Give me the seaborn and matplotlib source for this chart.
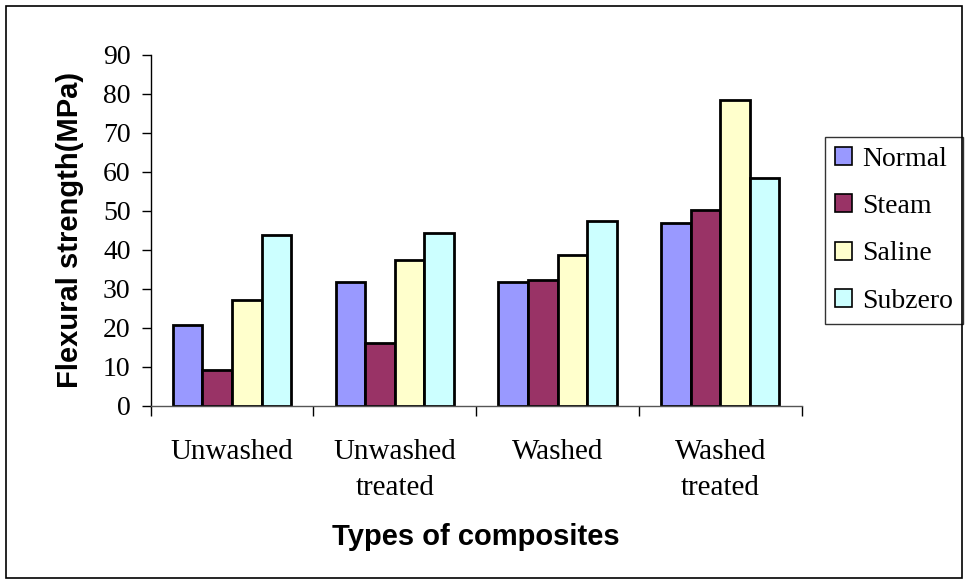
import matplotlib
matplotlib.use("Agg")
import matplotlib.pyplot as plt
from matplotlib.patches import Rectangle
from matplotlib.ticker import FixedLocator, MultipleLocator
import pandas as pd
import seaborn as sns

categories = ["Unwashed", "Unwashed\ntreated", "Washed", "Washed\ntreated"]
conditions = ["Normal", "Steam", "Saline", "Subzero"]
normal = [20.7, 31.7, 31.6, 46.8]
steam = [9.2, 16.0, 32.3, 50.1]
saline = [27.1, 37.4, 38.6, 78.5]
subzero = [43.8, 44.4, 47.3, 58.3]
colors = ["#9999FF", "#993366", "#FFFFCC", "#CCFFFF"]

rows = []
for cond, vals in zip(conditions, [normal, steam, saline, subzero]):
    for cat, v in zip(categories, vals):
        rows.append({"type": cat, "condition": cond, "value": v})
df = pd.DataFrame(rows)

sns.set_theme(style="white")
plt.rcParams["font.family"] = ["Liberation Serif", "DejaVu Serif"]
plt.rcParams.update({"text.color": "black", "axes.labelcolor": "black",
                     "xtick.color": "black", "ytick.color": "black"})

fig = plt.figure(figsize=(9.65, 5.83), dpi=100)
ax = fig.add_axes([150.7 / 965, 1 - 405.7 / 583, (801.7 - 150.7) / 965, (405.7 - 54.7) / 583])

sns.barplot(data=df, x="type", y="value", hue="condition", order=categories,
            hue_order=conditions, palette=colors, edgecolor="black",
            linewidth=2.0, width=0.727, errorbar=None, ax=ax, saturation=1)

ax.set_ylim(0, 90)
ax.set_xlim(-0.5, 3.5)
ax.yaxis.set_major_locator(MultipleLocator(10))
ax.tick_params(axis="y", which="major", direction="out", length=6.5, width=1,
               color="black", labelsize=20, pad=8, left=True)
ax.xaxis.set_minor_locator(FixedLocator([-0.5, 0.5, 1.5, 2.5, 3.5]))
ax.tick_params(axis="x", which="major", length=0, labelsize=21, pad=24)
ax.tick_params(axis="x", which="minor", direction="out", length=7, width=1,
               color="black", bottom=True)
for lbl in ax.get_xticklabels():
    lbl.set_linespacing(1.5)

for side in ["top", "right"]:
    ax.spines[side].set_visible(False)
ax.spines["left"].set_color("black")
ax.spines["left"].set_linewidth(1)
ax.spines["bottom"].set_color("#555555")
ax.spines["bottom"].set_linewidth(1)

ax.set_xlabel("Types of composites", family=["Liberation Sans", "DejaVu Sans"],
              fontsize=21, fontweight="bold")
ax.set_ylabel("Flexural strength(MPa)", family=["Liberation Sans", "DejaVu Sans"],
              fontsize=21, fontweight="bold")
ax.xaxis.set_label_coords((476 - 150.7) / 651, -(537 - 405.7) / 351)
ax.yaxis.set_label_coords(-(150.7 - 70) / 651, (405.7 - 230) / 351)
ax.xaxis.label.set_verticalalignment("center")
ax.yaxis.label.set_verticalalignment("center")

leg = ax.legend(loc="upper left", bbox_to_anchor=(825 / 965, 1 - 137 / 583),
                bbox_transform=fig.transFigure, frameon=True, fancybox=False,
                fontsize=20, handlelength=0.62, handleheight=0.62,
                handletextpad=0.35, labelspacing=0.8, borderpad=0.36,
                borderaxespad=0)
leg.get_frame().set_edgecolor("black")
leg.get_frame().set_linewidth(1)
for h in leg.legend_handles:
    h.set_linewidth(1.2)
    h.set_edgecolor("black")

fig.patches.append(Rectangle((6 / 965, 5 / 583), 956 / 965, 572 / 583,
                             transform=fig.transFigure, fill=False,
                             edgecolor="black", linewidth=1.2))

fig.savefig("out.png", dpi=100)
